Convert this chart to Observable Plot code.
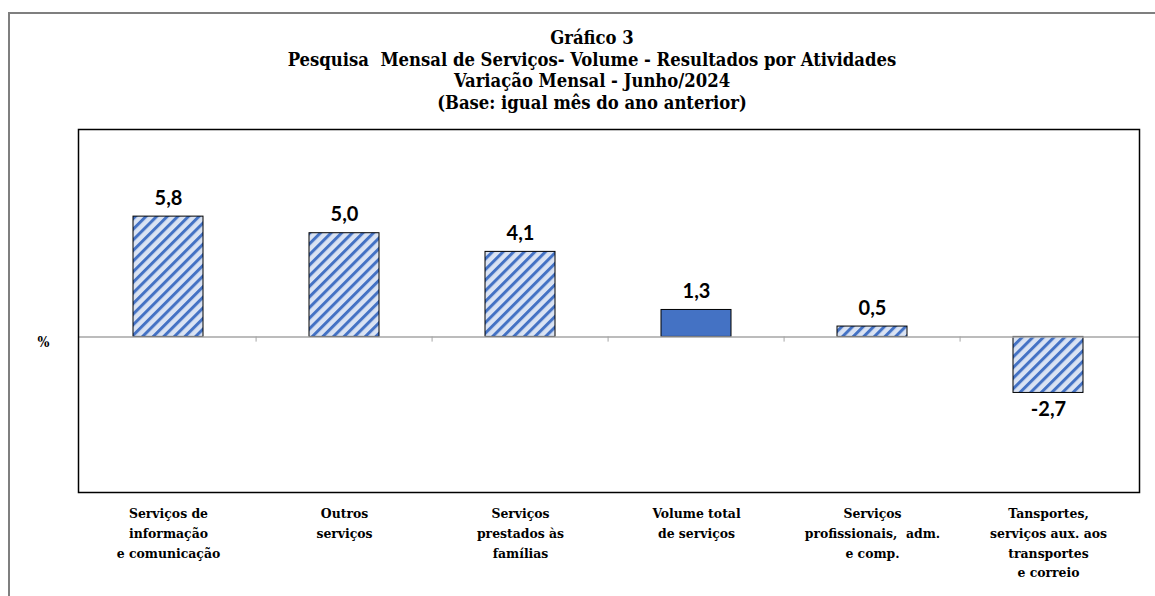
<!DOCTYPE html>
<html>
<head>
<meta charset="utf-8">
<script src="https://cdn.jsdelivr.net/npm/d3@7"></script>
<script src="https://cdn.jsdelivr.net/npm/@observablehq/plot@0.6"></script>
<style>
  html, body { margin: 0; padding: 0; background: #fff; }
  #wrap { position: relative; width: 1155px; height: 596px; overflow: hidden; }
  #outer { position: absolute; left: 8px; top: 12px; width: 1200px; height: 700px; border: 2px solid #7f7f7f; box-sizing: border-box; }
  #title { position: absolute; top: 27px; left: 592px; transform: translateX(-50%); text-align: center;
           font-family: "DejaVu Serif Condensed", "DejaVu Serif", serif; font-stretch: condensed; font-weight: bold;
           font-size: 18.3px; line-height: 21.5px; white-space: pre; color: #000; }
  #chart { position: absolute; left: 0; top: 127px; }
</style>
</head>
<body>
<div id="wrap">
  <div id="outer"></div>
  <div id="title"></div>
  <div id="chart"></div>
</div>
<script>
const titleLines = [
  "Gráfico 3",
  "Pesquisa  Mensal de Serviços- Volume - Resultados por Atividades",
  "Variação Mensal - Junho/2024",
  "(Base: igual mês do ano anterior)"
];
const categories = ["info", "outros", "familias", "total", "prof", "transp"];
const categoryLabels = [
  "Serviços de\ninformação\ne comunicação",
  "Outros\nserviços",
  "Serviços\nprestados às\nfamílias",
  "Volume total\nde serviços",
  "Serviços\nprofissionais,  adm.\ne comp.",
  "Tansportes,\nserviços aux. aos\ntransportes\ne correio"
];
const values = [5.8, 5.0, 4.1, 1.3, 0.5, -2.7];
const isTotal = [false, false, false, true, false, false];
const yUnit = "%";

document.getElementById("title").textContent = titleLines.join("\n");

const data = categories.map((c, i) => ({
  cat: c, label: categoryLabels[i], value: values[i], total: isTotal[i],
  text: values[i].toFixed(1).replace(".", ",")
}));

const W = 1155, mL = 78, mR = 16;
const step = (W - mL - mR) / categories.length;
const serif = "'DejaVu Serif Condensed', 'DejaVu Serif', serif";

const plot = Plot.plot({
  width: W,
  height: 469,
  marginTop: 2,
  marginBottom: 104,
  marginLeft: mL,
  marginRight: mR,
  style: { background: "transparent", overflow: "visible" },
  x: { domain: categories, paddingInner: 0.6, paddingOuter: 0.3, axis: null },
  y: { domain: [-7.5, 10], axis: null },
  marks: [
    Plot.barY(data.filter(d => !d.total), { x: "cat", y: "value", fill: "url(#stripes)", stroke: "#000", strokeWidth: 1 }),
    Plot.barY(data.filter(d => d.total), { x: "cat", y: "value", fill: "#4472C4", stroke: "#000", strokeWidth: 1 }),
    Plot.ruleY([0], { stroke: "#a6a6a6", strokeWidth: 1.5 }),
    Plot.ruleX(categories.slice(1), { x: d => d, dx: -step / 2, y1: 0, y2: -0.25, stroke: "#a6a6a6", strokeWidth: 1 }),
    Plot.text(data.filter(d => d.value >= 0), { x: "cat", y: "value", text: "text", lineAnchor: "bottom", dy: -12,
      fontSize: 20, fontWeight: "bold", fontFamily: "Lato", fill: "#000" }),
    Plot.text(data.filter(d => d.value < 0), { x: "cat", y: "value", text: "text", lineAnchor: "top", dy: 9,
      fontSize: 20, fontWeight: "bold", fontFamily: "Lato", fill: "#000" }),
    Plot.text(data, { x: "cat", text: "label", frameAnchor: "bottom", lineAnchor: "top", dy: 12,
      fontSize: 13.8, lineHeight: 1.42, fontWeight: "bold", fontFamily: serif, fill: "#000" }),
    Plot.text([0], { y: d => d, text: () => yUnit, frameAnchor: "left", dx: -41, dy: 6,
      fontSize: 14, fontWeight: "bold", fontFamily: serif, fill: "#000" }),
    Plot.frame({ stroke: "#000", strokeWidth: 1.5 })
  ]
});

const svg = d3.select(plot);
const defs = svg.insert("defs", ":first-child");
const pat = defs.append("pattern")
  .attr("id", "stripes")
  .attr("patternUnits", "userSpaceOnUse")
  .attr("width", 7.5)
  .attr("height", 7.5)
  .attr("patternTransform", "rotate(45)");
pat.append("rect").attr("width", 7.5).attr("height", 7.5).attr("fill", "#dae3f3");
pat.append("rect").attr("x", 0).attr("width", 3).attr("height", 7.5).attr("fill", "#4472C4");

document.getElementById("chart").appendChild(plot);
</script>
</body>
</html>
